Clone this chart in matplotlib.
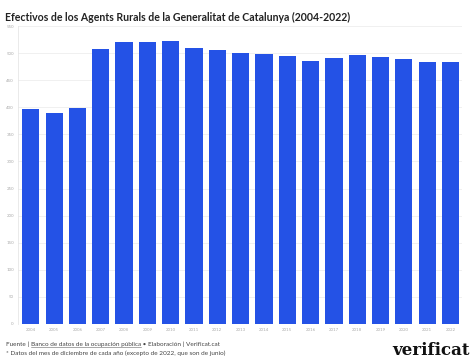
import matplotlib.pyplot as plt

years = [str(y) for y in range(2004, 2023)]
agents = [396, 390, 398, 508, 521, 521, 522, 510, 506, 501, 498,
          495, 486, 491, 496, 493, 489, 483, 484]
yticks = list(range(0, 551, 50))

title = 'Efectivos de los Agents Rurals de la Generalitat de Catalunya (2004-2022)'
note = '* Datos del mes de diciembre de cada año (excepto de 2022, que son de junio)'

plt.rcParams['font.family'] = ['Lato', 'DejaVu Sans']

fig = plt.figure(figsize=(4.74, 3.62), dpi=100)
ax = fig.add_axes([0.038, 0.105, 0.937, 0.823])

ax.bar(years, agents, width=0.74, color='#2452e6', zorder=2)
ax.set_ylim(0, 550)
ax.set_xlim(-0.55, len(years) - 0.5)
ax.set_yticks(yticks)
ax.tick_params(axis='both', length=0, labelsize=3.2, colors='#aaaaaa', pad=3)
ax.grid(axis='y', color='#eeeeee', linewidth=0.6, zorder=0)
for s in ax.spines.values():
    s.set_visible(False)
ax.spines['left'].set_visible(True)
ax.spines['left'].set_color('#e6e6e6')
ax.spines['left'].set_linewidth(0.6)

# title and footer
fig.text(0.011, 0.968, title, fontsize=7.6, fontweight='bold', color='#222222',
         va='top', ha='left')
fs = 4.6
f1 = fig.text(0.013, 0.045, 'Fuente | ', fontsize=fs, color='#444444', va='baseline')
fig.canvas.draw()
r = fig.canvas.get_renderer()
bb = f1.get_window_extent(r)
x = bb.x1 / fig.bbox.width
f2 = fig.text(x, 0.045, 'Banco de datos de la ocupación pública', fontsize=fs,
              color='#444444', va='baseline')
bb2 = f2.get_window_extent(r)
fig.add_artist(plt.Line2D([x, bb2.x1 / fig.bbox.width], [0.041, 0.041],
                          color='#666666', linewidth=0.4))
fig.text(bb2.x1 / fig.bbox.width, 0.045, ' • Elaboración | Verificat.cat', fontsize=fs,
         color='#444444', va='baseline')
fig.text(0.013, 0.018, note, fontsize=fs, color='#444444', va='baseline')
fig.text(0.99, 0.02, 'verificat', fontsize=12, fontweight='bold', family='DejaVu Serif',
         color='#111111', ha='right', va='baseline')

fig.savefig('out.png', dpi=100)
